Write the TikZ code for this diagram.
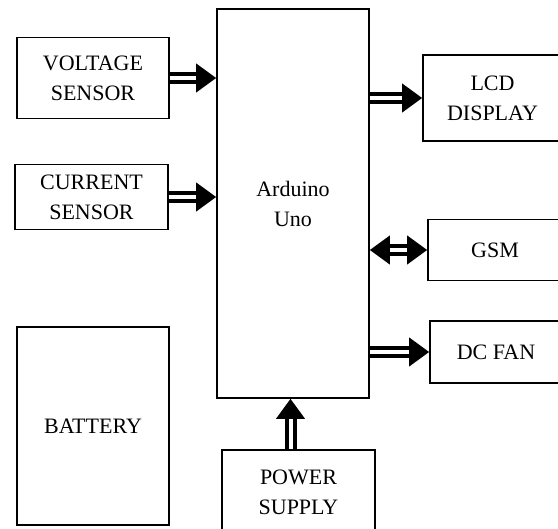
\documentclass[tikz,border=0pt]{standalone}
\usepackage{fontspec}
\setmainfont{Liberation Serif}
\usetikzlibrary{arrows.meta}

\begin{document}
\begin{tikzpicture}[x=0.5pt,y=-0.5pt,
	block/.style={draw, line width=0.8pt, align=center, inner sep=0pt,
		font=\fontsize{11}{15}\selectfont},
	flow/.style={double, double distance=2pt, line width=2pt,
		-{Triangle[length=10pt,width=14pt]}}]
	\clip (0,0) rectangle (558,529);
	% inputs
	\node[block, minimum width=76pt, minimum height=40.5pt] (volt) at (93,78) {VOLTAGE\\SENSOR};
	\node[block, minimum width=76.5pt, minimum height=32.5pt] (curr) at (91.5,197) {CURRENT\\SENSOR};
	\node[block, minimum width=76pt, minimum height=99pt] (batt) at (93,426) {BATTERY};
	% controller
	\node[block, minimum width=76pt, minimum height=194.5pt] (ard) at (293,203.5) {Arduino\\Uno};
	% outputs
	\node[block, minimum width=69.5pt, minimum height=43pt] (lcd) at (492.5,98) {LCD\\DISPLAY};
	\node[block, minimum width=67pt, minimum height=30.5pt] (gsm) at (495,250) {GSM};
	\node[block, minimum width=66pt, minimum height=31pt] (fan) at (496,352) {DC FAN};
	\node[block, minimum width=76.5pt, minimum height=42.5pt] (psu) at (298.5,492.5) {POWER\\SUPPLY};
	% arrows
	\draw[flow] (volt.east) -- (volt.east -| ard.west);
	\draw[flow] (curr.east) -- (curr.east -| ard.west);
	\draw[flow] (lcd.west -| ard.east) -- (lcd.west);
	\draw[flow, {Triangle[length=10pt,width=14pt]}-{Triangle[length=10pt,width=14pt]}] (gsm.west -| ard.east) -- (gsm.west);
	\draw[flow] (fan.west -| ard.east) -- (fan.west);
	\draw[flow] ([xshift=-4pt]psu.north) -- ([xshift=-4pt]psu.north |- ard.south);
\end{tikzpicture}
\end{document}
